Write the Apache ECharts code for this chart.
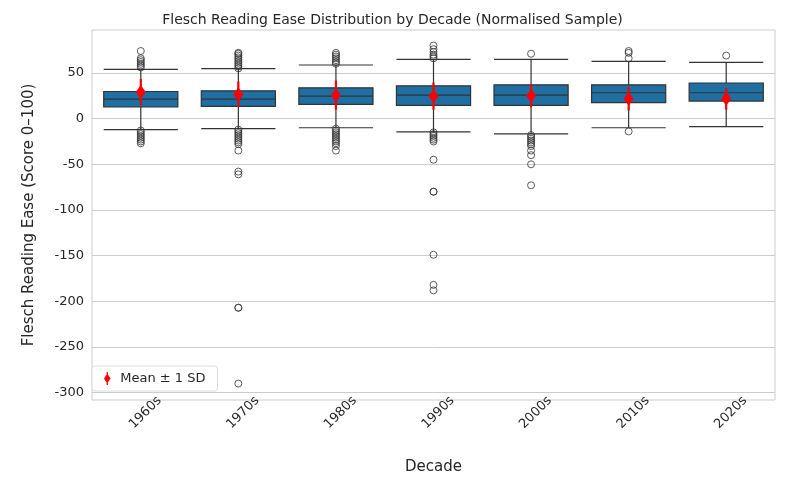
<!DOCTYPE html>
<html><head><meta charset="utf-8">
<script src="https://cdn.jsdelivr.net/npm/echarts@6/dist/echarts.min.js"></script>
<style>html,body{margin:0;background:#fff}#c{width:785px;height:485px}</style>
</head><body><div id="c"></div>
<script>
var decades = ['1960s', '1970s', '1980s', '1990s', '2000s', '2010s', '2020s'];
// [lower whisker, Q1, median, Q3, upper whisker]
var boxes = [
    [-12, 12.7, 21.4, 29.7, 54],
    [-11, 13.4, 21.4, 30.4, 54.7],
    [-10, 15.5, 24.6, 33.7, 58.7],
    [-14.5, 14.5, 25.7, 35.9, 64.8],
    [-16.7, 14.5, 25.7, 37, 64.8],
    [-10, 17.4, 28.3, 37, 62.6],
    [-8.7, 19.2, 28.3, 39, 61.6]
];
var means = [29, 26.8, 25.7, 24.6, 25, 21.7, 21.7];
var sds = [14.5, 14, 16, 15, 12.7, 13, 12];
var outliers = [
    [56, 58, 60, 62, 64, 66, 74, -13, -15, -17, -19, -21, -23, -25, -27],
    [55, 57, 59, 61, 63, 65, 67, 69, 71, 72, -12, -14, -16, -18, -20, -22, -24, -26, -28, -35, -58, -61, -207, -207, -290],
    [60, 62, 64, 66, 68, 70, 72, -11, -13, -15, -17, -19, -21, -23, -25, -27, -30, -35],
    [66, 68, 70, 73, 76, 80, -15, -17, -19, -21, -23, -25, -45, -80, -80, -149, -182, -188],
    [71, -18, -20, -22, -24, -26, -28, -30, -35, -40, -50, -73],
    [66, 72, 74, -14],
    [69]
];
var yTicks = [-300, -250, -200, -150, -100, -50, 0, 50];

var outlierPts = [];
outliers.forEach(function (list, i) {
    list.forEach(function (v) { outlierPts.push([i, v]); });
});
var meanPts = means.map(function (m, i) { return [i, m, sds[i]]; });

var chart = echarts.init(document.getElementById('c'));
chart.setOption({
    animation: false,
    textStyle: { fontFamily: 'DejaVu Sans' },
    title: {
        text: 'Flesch Reading Ease Distribution by Decade (Normalised Sample)',
        left: 'center', top: 8,
        textStyle: { fontSize: 14, fontWeight: 'normal', color: '#262626' }
    },
    legend: {
        left: 92, top: 366, orient: 'vertical',
        backgroundColor: '#fff', borderColor: '#ddd', borderWidth: 1, borderRadius: 3,
        padding: [6, 12], itemWidth: 16, itemHeight: 13,
        textStyle: { fontSize: 13, color: '#262626' },
        data: [{ name: 'Mean ± 1 SD', icon: 'path://M7,0 L7,4 L11,10 L7,16 L7,20 L5,20 L5,16 L1,10 L5,4 L5,0 Z' }]
    },
    grid: { left: 92, right: 10, top: 30, bottom: 85, show: true, borderColor: '#ccc', borderWidth: 1 },
    xAxis: {
        type: 'category', data: decades,
        name: 'Decade', nameLocation: 'middle', nameGap: 60,
        nameTextStyle: { fontSize: 15, color: '#262626' },
        axisLine: { show: false }, axisTick: { show: false },
        axisLabel: { rotate: 45, fontSize: 13, color: '#262626', margin: 8, padding: [0, 0, 0, 0], align: 'center', verticalAlign: 'top' }
    },
    yAxis: {
        type: 'value', min: -308, max: 97,
        name: 'Flesch Reading Ease (Score 0–100)', nameLocation: 'middle', nameGap: 55,
        nameTextStyle: { fontSize: 15, color: '#262626' },
        axisLine: { show: false },
        axisTick: { show: false, customValues: yTicks },
        axisLabel: { fontSize: 13, color: '#262626', customValues: yTicks },
        splitLine: { show: true, lineStyle: { color: '#ccc' } }
    },
    series: [
        {
            type: 'boxplot', data: boxes, boxWidth: ['76%', '76%'],
            itemStyle: { color: '#1f6fa3', borderColor: '#333', borderWidth: 1.2 },
            silent: true
        },
        {
            type: 'scatter', data: outlierPts, symbol: 'circle', symbolSize: 7,
            itemStyle: { color: 'rgba(0,0,0,0)', borderColor: '#333', borderWidth: 1 },
            silent: true
        },
        {
            type: 'custom', name: 'Mean ± 1 SD', data: meanPts, z: 10,
            itemStyle: { color: '#ff0000' },
            renderItem: function (params, api) {
                var x = api.value(0), m = api.value(1), s = api.value(2);
                var c = api.coord([x, m]);
                var t = api.coord([x, m + s]);
                var b = api.coord([x, m - s]);
                return {
                    type: 'group',
                    children: [
                        { type: 'line', shape: { x1: c[0], y1: t[1], x2: c[0], y2: b[1] }, style: { stroke: '#ff0000', lineWidth: 2.2 } },
                        { type: 'polygon', shape: { points: [[c[0], c[1] - 7], [c[0] + 5, c[1]], [c[0], c[1] + 7], [c[0] - 5, c[1]]] }, style: { fill: '#ff0000' } }
                    ]
                };
            }
        }
    ]
});
</script></body></html>
